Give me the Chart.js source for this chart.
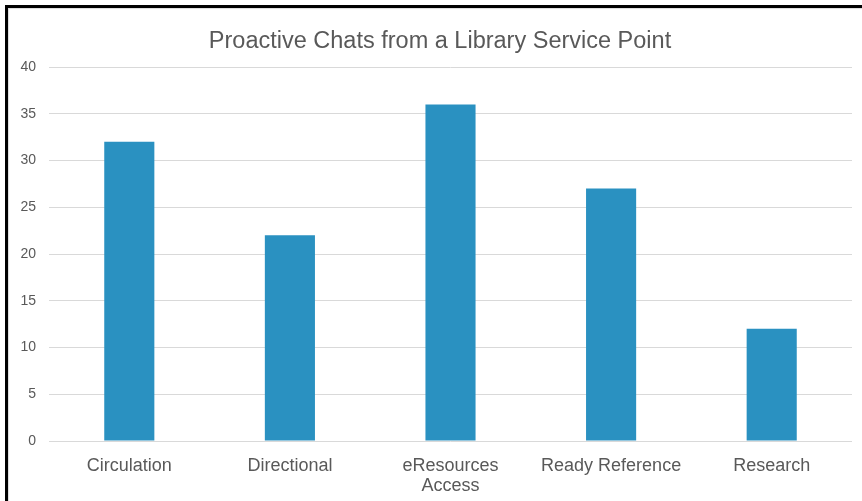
<!DOCTYPE html>
<html>
<head>
<meta charset="utf-8">
<script src="https://cdn.jsdelivr.net/npm/chart.js@4.4.1/dist/chart.umd.min.js"></script>
<style>
  html, body { margin: 0; padding: 0; background: #ffffff; }
  #wrap { position: relative; width: 862px; height: 501px; overflow: hidden; }
  #frame {
    position: absolute; left: 5px; top: 5px; right: -10px; bottom: -10px;
    border-left: 3px solid #000; border-top: 3px solid #000;
    box-shadow: inset 1px 1px 1px rgba(0,0,0,0.15);
    pointer-events: none;
  }
  canvas { position: absolute; left: 0; top: 0; }
</style>
</head>
<body>
<div id="wrap">
  <canvas id="chart" width="862" height="501"></canvas>
  <div id="frame"></div>
</div>
<script>
// Chat counts per service category
const categories = ['Circulation', 'Directional', ['eResources', 'Access'], 'Ready Reference', 'Research'];
const chatCounts = [32, 22, 36, 27, 12];
const yTicks = [0, 5, 10, 15, 20, 25, 30, 35, 40];

const textGray = '#595959';
const gridGray = '#d9d9d9';
const fontFamily = '"Liberation Sans", Arial, Helvetica, sans-serif';

// Centre the title over the whole chart frame rather than the padded box
const titleCentering = {
  id: 'titleCentering',
  afterLayout(chart) {
    const t = chart.titleBlock;
    if (t) {
      t.left = 28;
      t.right = 852;
    }
  }
};

new Chart(document.getElementById('chart'), {
  type: 'bar',
  data: {
    labels: categories,
    datasets: [{
      label: 'Chats',
      data: chatCounts,
      backgroundColor: '#2a91c1',
      borderWidth: 0,
      categoryPercentage: 1.0,
      barPercentage: 0.312
    }]
  },
  plugins: [titleCentering],
  options: {
    responsive: false,
    animation: false,
    devicePixelRatio: 1,
    layout: { padding: { left: 0, right: 10, top: 0, bottom: 0 } },
    plugins: {
      legend: { display: false },
      tooltip: { enabled: false },
      title: {
        display: true,
        text: 'Proactive Chats from a Library Service Point',
        color: textGray,
        font: { family: fontFamily, size: 23.5, weight: 'normal', lineHeight: 1.2 },
        padding: { top: 27, bottom: 11.8 }
      }
    },
    scales: {
      x: {
        grid: { display: false, drawTicks: false },
        border: { display: false },
        afterFit: (axis) => {
          axis.height = 60;
          axis.paddingLeft = 0;
          axis.paddingRight = 0;
        },
        ticks: {
          color: textGray,
          font: { family: fontFamily, size: 18, lineHeight: 1.1 },
          padding: 15,
          maxRotation: 0,
          autoSkip: false
        }
      },
      y: {
        min: 0,
        max: 40,
        afterBuildTicks: (axis) => { axis.ticks = yTicks.map(v => ({ value: v })); },
        afterFit: (axis) => {
          axis.width = 49;
          axis.paddingTop = 0;
          axis.paddingBottom = 0;
        },
        grid: { color: gridGray, lineWidth: 1, drawTicks: false },
        border: { display: false },
        ticks: {
          color: textGray,
          font: { family: fontFamily, size: 14 },
          padding: 13
        }
      }
    }
  }
});
</script>
</body>
</html>
